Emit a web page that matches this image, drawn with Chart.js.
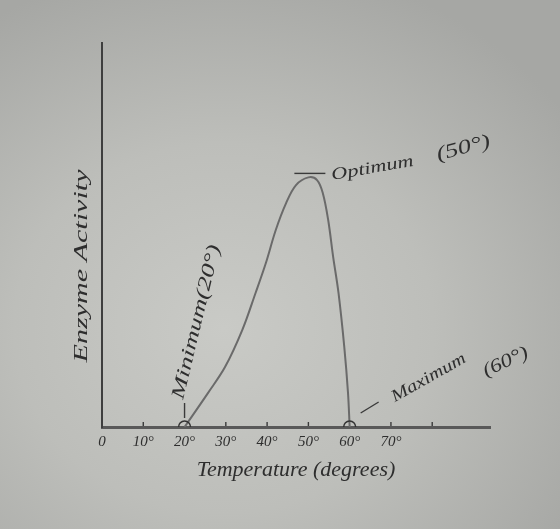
<!DOCTYPE html>
<html>
<head>
<meta charset="utf-8">
<script src="https://cdn.jsdelivr.net/npm/chart.js@4"></script>
<style>
  html, body { margin:0; padding:0; }
  body {
    width:560px; height:529px; overflow:hidden;
    background: radial-gradient(ellipse 75% 70% at 40% 62%, #c9cac6 0%, #bdbeba 50%, #a6a7a4 100%);
  }
  canvas { display:block; }
</style>
</head>
<body>
<canvas id="enzymeChart" width="560" height="529"></canvas>
<script>
// temperature (degrees) along the hand-drawn curve
const tempDeg = [20, 25.7, 29.8, 34, 37.2, 39.7, 42.1, 44.6, 47, 50, 52.1, 53.5, 54.8, 56, 57.3, 58.7, 59.6, 60];
// enzyme activity (arbitrary units, axis 0-100)
const activity = [0, 8.9, 15.6, 25.3, 34.9, 42.7, 51.3, 58.3, 63, 65, 64.3, 60.9, 53.9, 44.3, 34.9, 20.8, 8.9, 0];
// labelled ticks on the temperature axis
const tickDeg = [0, 10, 20, 30, 40, 50, 60, 70, 80];
const tickText = ['0', '10°', '20°', '30°', '40°', '50°', '60°', '70°', ''];
// circled points on the axis
const circled = [20, 60];

const hand = 'italic {s}px "Liberation Serif", "DejaVu Serif", serif';
const ink = '#2e2e2e';

function note(ctx, text, x, y, angle, width, size) {
  ctx.save();
  ctx.translate(x, y);
  ctx.rotate(angle * Math.PI / 180);
  ctx.font = hand.replace('{s}', size);
  const w = ctx.measureText(text).width;
  ctx.scale(width / w, 1);
  ctx.textAlign = 'center';
  ctx.textBaseline = 'middle';
  ctx.fillStyle = ink;
  ctx.fillText(text, 0, 0);
  ctx.restore();
}

function line(ctx, x1, y1, x2, y2) {
  ctx.beginPath(); ctx.moveTo(x1, y1); ctx.lineTo(x2, y2); ctx.stroke();
}

const sketchNotes = {
  id: 'sketchNotes',
  afterDraw(chart) {
    const ctx = chart.ctx, xs = chart.scales.x, ys = chart.scales.y;
    ctx.save();
    ctx.strokeStyle = '#3a3a3a';
    ctx.lineWidth = 1.4;

    // small tick marks above the axis line
    const base = ys.getPixelForValue(0);
    xs.ticks.forEach(t => {
      if (t.value === 0 || circled.includes(t.value)) return;
      const px = xs.getPixelForValue(t.value);
      line(ctx, px, base - 1, px, base - 5);
    });

    // optimum
    const ox = xs.getPixelForValue(50), oy = ys.getPixelForValue(Math.max(...activity));
    line(ctx, ox - 14, oy - 4, ox + 17, oy - 4);
    note(ctx, 'Optimum', ox + 64, oy - 9, -10, 83, 17);
    note(ctx, '(50°)', ox + 155, oy - 29, -15, 55, 20);

    // minimum
    const mx = xs.getPixelForValue(20);
    line(ctx, mx, base - 9, mx, base - 24);
    note(ctx, 'Minimum(20°)', mx + 12, base - 105, -76.5, 158, 19);

    // maximum
    const Mx = xs.getPixelForValue(60);
    line(ctx, Mx + 11, base - 14, Mx + 29, base - 25);
    note(ctx, 'Maximum', Mx + 79, base - 49, -29.5, 83, 17);
    note(ctx, '(60°)', Mx + 156, base - 65, -25, 48, 19);

    // y axis title
    note(ctx, 'Enzyme Activity', 82, 266, -90, 193, 19);
    ctx.restore();
  }
};

new Chart(document.getElementById('enzymeChart'), {
  type: 'line',
  data: {
    datasets: [{
      data: tempDeg.map((t, i) => ({ x: t, y: activity[i] })),
      borderColor: '#6a6a6a',
      borderWidth: 2,
      tension: 0.35,
      pointRadius: tempDeg.map(t => circled.includes(t) ? 6 : 0),
      pointBorderColor: '#333',
      pointBorderWidth: 1.5,
      pointBackgroundColor: 'rgba(0,0,0,0)'
    }]
  },
  options: {
    responsive: false,
    animation: false,
    layout: { padding: { left: 102, right: 70, top: 43, bottom: 0 } },
    plugins: { legend: { display: false }, tooltip: { enabled: false } },
    scales: {
      x: {
        type: 'linear', min: 0, max: 94,
        afterFit: s => { s.height = 102; },
        afterBuildTicks: s => { s.ticks = tickDeg.map(v => ({ value: v })); },
        grid: { display: false, drawTicks: false },
        border: { display: true, color: '#595959', width: 3 },
        ticks: {
          padding: 6, color: ink, maxRotation: 0, autoSkip: false,
          font: { family: '"Liberation Serif", serif', style: 'italic', size: 15 },
          callback: v => tickText[tickDeg.indexOf(v)] ?? ''
        },
        title: {
          display: true, text: 'Temperature (degrees)', color: ink,
          font: { family: '"Liberation Serif", serif', style: 'italic', size: 22 },
          padding: { top: 0, bottom: 46 }
        }
      },
      y: {
        min: 0, max: 100,
        afterFit: s => { s.width = 0; },
        grid: { display: false, drawTicks: false },
        border: { display: true, color: '#3e3e3e', width: 2 },
        ticks: { display: false }
      }
    }
  },
  plugins: [sketchNotes]
});
</script>
</body>
</html>
